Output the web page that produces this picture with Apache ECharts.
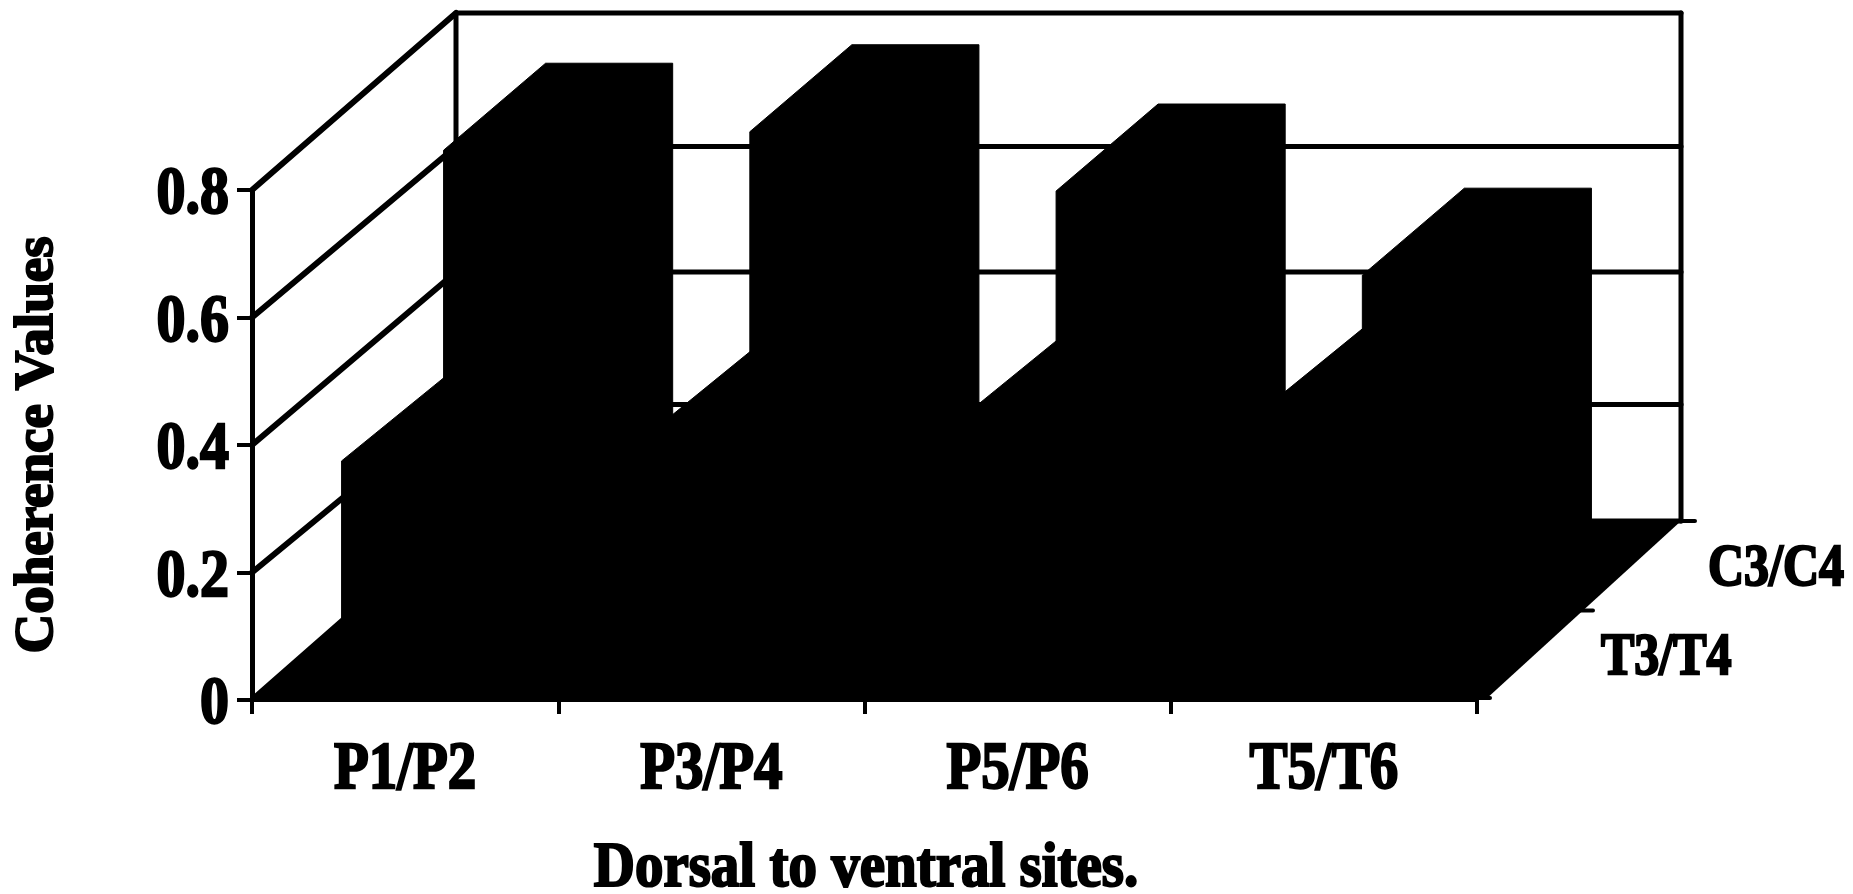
<!DOCTYPE html>
<html>
<head>
<meta charset="utf-8">
<style>html,body{margin:0;padding:0;background:#fff}#chart{width:1853px;height:894px}</style>
<script src="https://cdn.jsdelivr.net/npm/echarts@6/dist/echarts.min.js"></script>
</head>
<body>
<div id="chart"></div>
<script>
// ---- data ----
const categories = ['P1/P2', 'P3/P4', 'P5/P6', 'T5/T6'];
const rowLabels = ['T3/T4', 'C3/C4'];
const t3t4 = [0.375, 0.416, 0.433, 0.452];
const c3c4 = [0.722, 0.751, 0.658, 0.526];
const yTicks = [0, 0.2, 0.4, 0.6, 0.8];
const yTickLabels = ['0', '0.2', '0.4', '0.6', '0.8'];

// ---- oblique projection ----
const DEPTH_X = 204, DEPTH_Y = 179;          // full depth of the floor
const WALL_RISE = [179, 168, 173, 171, 177]; // rise of each grid line along the side wall
const TOP_RISE = [83, 87];                   // rise of the bar tops, front row and back row
const BAR_FRACTION = 0.415;
const INK = '#000';
const SERIF = '"Liberation Serif","Times New Roman",serif';

function text(x, y, str, size, scaleY, align) {
  return {
    type: 'text', x: x, y: y, scaleY: scaleY, silent: true,
    style: { text: str, fill: INK, stroke: INK, lineWidth: 2,
      font: 'bold ' + size + 'px ' + SERIF, align: align, verticalAlign: 'middle' }
  };
}
function line(x1, y1, x2, y2, w) {
  return { type: 'line', silent: true,
    shape: { x1: x1, y1: y1, x2: x2, y2: y2 },
    style: { stroke: INK, lineWidth: w, lineCap: 'round', fill: null } };
}

function renderFloor(params, api) {
  const g = params.coordSys, L = g.x, R = g.x + g.width, B = g.y + g.height;
  return { type: 'group', children: [
    { type: 'polygon', silent: true,
      shape: { points: [[L, B], [L + DEPTH_X, B - DEPTH_Y], [R + DEPTH_X, B - DEPTH_Y], [R + 8, B]] },
      style: { fill: INK } },
    line(R + DEPTH_X, B - DEPTH_Y, R + DEPTH_X + 14, B - DEPTH_Y, 4),
    line(R + DEPTH_X / 2, B - DEPTH_Y / 2, R + DEPTH_X / 2 + 14, B - DEPTH_Y / 2, 4),
    line(R, B - 2, R + 13, B - 2, 4)
  ] };
}

function renderWall(params, api) {
  const g = params.coordSys, L = g.x, R = g.x + g.width;
  const i = params.dataIndex;
  const y = api.coord([0, api.value(0)])[1];
  const backY = y - WALL_RISE[i];
  const kids = [
    line(L, y, L + DEPTH_X, backY, 6),
    line(L + DEPTH_X, backY, R + DEPTH_X, backY, 5)
  ];
  if (i === yTicks.length - 1) {
    const b = g.y + g.height - DEPTH_Y;
    kids.push(line(L + DEPTH_X, backY, L + DEPTH_X, b, 5));
    kids.push(line(R + DEPTH_X, backY, R + DEPTH_X, b, 5));
  }
  return { type: 'group', children: kids };
}

function barRenderer(rowIndex) {
  return function (params, api) {
    const p = api.coord([api.value(0), api.value(1)]);
    const w = api.size([1, 0])[0] * BAR_FRACTION;
    const dx = DEPTH_X / 2, dy = DEPTH_Y / 2, rise = TOP_RISE[rowIndex];
    const zero = api.coord([api.value(0), 0])[1];
    const x0 = p[0] - w / 2 + rowIndex * dx;
    const top = p[1] - rowIndex * dy;
    const bot = zero - rowIndex * dy;
    return { type: 'polygon', silent: true,
      shape: { points: [
        [x0, bot], [x0, top], [x0 + dx, top - rise], [x0 + w + dx, top - rise],
        [x0 + w + dx, bot - dy], [x0 + w, bot]
      ] },
      style: { fill: INK, stroke: INK, lineWidth: 1, lineJoin: 'round' } };
  };
}

function renderXLabel(params, api) {
  const p = api.coord([api.value(0), 0]);
  return text(p[0], p[1] + 71, categories[params.dataIndex], 57, 1.18, 'center');
}
function renderYLabel(params, api) {
  const p = api.coord([0, api.value(0)]);
  const L = params.coordSys.x;
  return text(L - 23, p[1] + 6, yTickLabels[params.dataIndex], 58, 1.15, 'right');
}
function renderRowLabel(params, api) {
  const g = params.coordSys, R = g.x + g.width, B = g.y + g.height;
  const i = params.dataIndex;
  return text(R + 124 + i * 107, B - 41 - i * 89, rowLabels[i], 50, 1.17, 'left');
}

const chart = echarts.init(document.getElementById('chart'), null, { renderer: 'canvas' });
chart.setOption({
  backgroundColor: '#fff',
  animation: false,
  tooltip: { show: false },
  grid: { left: 252, right: 376, top: 190, height: 510, outerBoundsMode: 'none' },
  xAxis: {
    type: 'category', data: categories, boundaryGap: true,
    axisLine: { show: true, lineStyle: { color: INK, width: 3 } },
    axisTick: { show: true, inside: false, length: 14, lineStyle: { color: INK, width: 4 } },
    axisLabel: { show: false },
    splitLine: { show: false }
  },
  yAxis: {
    type: 'value', min: 0, max: 0.8, interval: 0.2,
    name: 'Coherence Values', nameLocation: 'middle', nameRotate: 90, nameGap: 187,
    nameTextStyle: { color: INK, fontFamily: SERIF, fontWeight: 'bold', fontSize: 55,
      textBorderColor: INK, textBorderWidth: 2 },
    axisLine: { show: true, onZero: false, lineStyle: { color: INK, width: 5 } },
    axisTick: { show: true, length: 15, lineStyle: { color: INK, width: 4 } },
    axisLabel: { show: false },
    splitLine: { show: false }
  },
  graphic: [{
    type: 'text', x: 866, y: 870, scaleY: 1.12, silent: true,
    style: { text: 'Dorsal to ventral sites.', fill: INK, stroke: INK, lineWidth: 2,
      font: 'bold 57px ' + SERIF, align: 'center', verticalAlign: 'middle' }
  }],
  series: [
    { type: 'custom', name: 'floor', data: [0], renderItem: renderFloor, clip: false, z: 1 },
    { type: 'custom', name: 'walls', data: yTicks.map(v => [v]), encode: { y: 0 }, renderItem: renderWall, clip: false, z: 1 },
    { type: 'custom', name: rowLabels[1], data: c3c4.map((v, i) => [i, v]), renderItem: barRenderer(1), clip: false, z: 2 },
    { type: 'custom', name: rowLabels[0], data: t3t4.map((v, i) => [i, v]), renderItem: barRenderer(0), clip: false, z: 3 },
    { type: 'custom', name: 'xLabels', data: categories.map((c, i) => [i]), renderItem: renderXLabel, clip: false, z: 4 },
    { type: 'custom', name: 'yLabels', data: yTicks.map(v => [v]), renderItem: renderYLabel, clip: false, z: 4 },
    { type: 'custom', name: 'rowLabels', data: rowLabels.map((r, i) => [i]), renderItem: renderRowLabel, clip: false, z: 4 }
  ]
});
</script>
</body>
</html>
